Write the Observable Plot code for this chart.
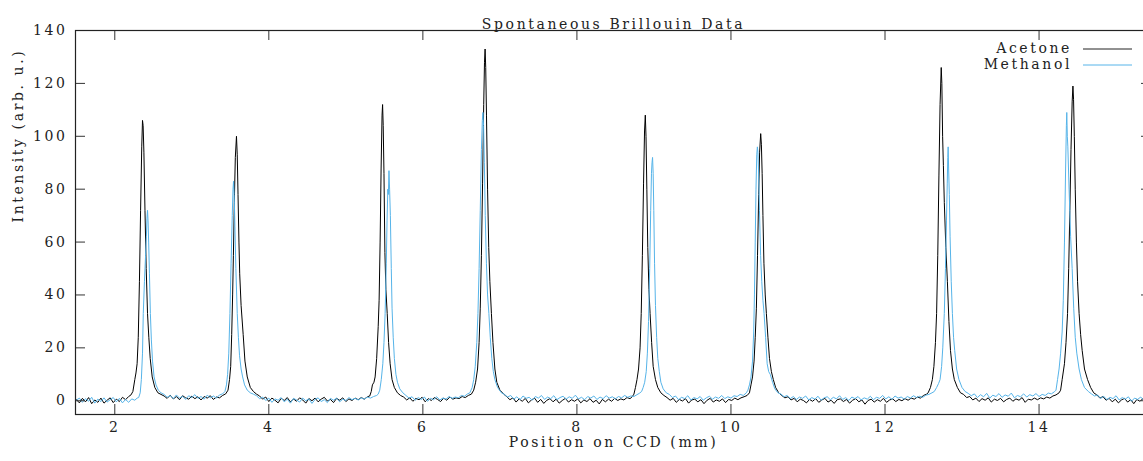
<!DOCTYPE html>
<html>
<head>
<meta charset="utf-8">
<script src="https://cdn.jsdelivr.net/npm/d3@7"></script>
<script src="https://cdn.jsdelivr.net/npm/@observablehq/plot@0.6"></script>
<style>
  html, body { margin: 0; padding: 0; background: #fff; }
  #chart svg text { font-family: 'DejaVu Serif', serif !important; font-size: 14px; letter-spacing: 2.6px; }
</style>
</head>
<body>
<div id="chart"></div>
<script>
const titleText = "Spontaneous Brillouin Data";
const xLabel = "Position on CCD (mm)";
const yLabel = "Intensity (arb. u.)";
const seriesNames = ["Acetone", "Methanol"];
const seriesColors = ["#000000", "#56b4e9"];
const xTicks = [2, 4, 6, 8, 10, 12, 14];
const yTicks = [0, 20, 40, 60, 80, 100, 120, 140];

// Acetone: [position (mm), intensity]
const acetone = [
  [1.50,0.5],[1.54,-0.8],[1.58,0.9],[1.62,-0.4],[1.66,1.2],[1.70,-1.1],[1.74,0.3],[1.78,-0.6],[1.82,1.0],[1.86,-0.9],[1.90,0.2],[1.94,1.1],[1.98,-0.7],[2.02,0.6],[2.06,-0.3],[2.10,1.3],[2.14,0.4],[2.18,1.6],[2.21,2.2],
  [2.235,3.5],[2.26,8],[2.275,10.5],[2.29,14],[2.305,24],[2.32,45],[2.335,72],[2.35,96],[2.36,106],[2.368,104],[2.378,94],[2.392,72],[2.408,50],[2.425,33],[2.442,24],[2.46,16],[2.486,9],[2.52,5],[2.56,3],[2.60,2.4],
  [2.64,1.8],[2.68,0.9],[2.72,2.1],[2.76,0.7],[2.80,1.6],[2.84,0.4],[2.88,1.9],[2.92,1.1],[2.96,0.6],[3.00,1.7],[3.04,0.8],[3.08,1.5],[3.12,0.3],[3.16,1.6],[3.20,1.0],[3.24,1.9],[3.28,0.5],[3.32,1.4],[3.36,1.1],[3.40,2.0],[3.44,2.6],
  [3.47,4],[3.49,8],[3.505,13],[3.518,25],[3.53,40],[3.54,55],[3.552,75],[3.565,92],[3.58,100],[3.59,93],[3.60,78],[3.612,60],[3.622,48],[3.64,36],[3.667,25],[3.69,15],[3.72,9],[3.76,5],[3.80,3.5],[3.84,2.5],
  [3.88,1.8],[3.92,0.6],[3.96,1.4],[4.00,-0.3],[4.04,1.0],[4.08,0.2],[4.12,-0.8],[4.16,0.9],[4.20,0.1],[4.24,1.2],[4.28,-0.5],[4.32,0.7],[4.36,-0.2],[4.40,1.1],[4.44,0.3],[4.48,-0.9],[4.52,0.8],[4.56,0.0],[4.60,1.0],[4.64,-0.4],[4.68,0.6],[4.72,1.3],[4.76,-0.1],[4.80,0.5],[4.84,-0.7],[4.88,0.9],[4.92,0.2],[4.96,1.1],[5.00,-0.3],[5.04,0.7],[5.08,0.1],[5.12,1.0],[5.16,0.4],[5.20,1.2],[5.24,0.6],[5.28,1.5],[5.31,1.8],
  [5.33,3.5],[5.345,6],[5.365,7],[5.38,9],[5.40,16],[5.42,28],[5.432,38],[5.445,60],[5.458,88],[5.47,108],[5.477,112],[5.485,104],[5.495,86],[5.507,56],[5.52,42],[5.537,33],[5.555,22],[5.575,14],[5.60,8],[5.63,5],[5.67,3],[5.71,2],
  [5.75,1.4],[5.79,0.3],[5.83,1.1],[5.87,-0.2],[5.91,0.9],[5.95,0.4],[5.99,1.3],[6.03,-0.4],[6.07,0.8],[6.11,0.1],[6.15,1.2],[6.19,0.5],[6.23,-0.3],[6.27,1.0],[6.31,0.2],[6.35,1.4],[6.39,0.6],[6.43,1.1],[6.47,0.8],[6.51,1.6],[6.55,1.2],[6.59,2.0],
  [6.63,2.5],[6.66,4],[6.685,7],[6.71,12],[6.73,22],[6.745,35],[6.76,55],[6.775,82],[6.79,112],[6.80,128],[6.808,133],[6.816,126],[6.826,108],[6.84,80],[6.855,58],[6.87,45],[6.89,33],[6.91,22],[6.935,12],[6.96,7],[7.00,4],[7.05,2.5],
  [7.09,1.5],[7.13,0.4],[7.17,1.1],[7.21,-0.5],[7.25,0.7],[7.29,-0.2],[7.33,0.9],[7.37,-0.8],[7.41,0.3],[7.45,1.0],[7.49,-0.6],[7.53,0.5],[7.57,-1.0],[7.61,0.2],[7.65,0.8],[7.69,-0.4],[7.73,0.6],[7.77,-0.9],[7.81,0.1],[7.85,0.9],[7.89,-0.5],[7.93,0.4],[7.97,-0.2],[8.01,0.7],[8.05,-0.8],[8.09,0.3],[8.13,-0.3],[8.17,0.8],[8.21,-0.6],[8.25,0.2],[8.29,-1.2],[8.33,0.5],[8.37,-0.4],[8.41,0.6],[8.45,-0.2],[8.49,0.9],[8.53,0.1],[8.57,0.7],[8.61,0.3],[8.65,1.2],[8.69,0.8],[8.72,1.6],
  [8.74,2.5],[8.76,5],[8.78,8],[8.80,12],[8.82,20],[8.835,33],[8.85,55],[8.865,82],[8.878,102],[8.888,108],[8.897,100],[8.908,80],[8.92,58],[8.935,42],[8.95,33],[8.97,22],[8.99,13],[9.02,8],[9.05,5],[9.09,3],[9.13,2],
  [9.17,1.2],[9.21,0.2],[9.25,0.9],[9.29,-0.6],[9.33,0.5],[9.37,-0.1],[9.41,0.8],[9.45,-0.9],[9.49,0.3],[9.53,0.6],[9.57,-0.4],[9.61,0.4],[9.65,-1.1],[9.69,0.2],[9.73,0.9],[9.77,-0.5],[9.81,0.3],[9.85,-0.2],[9.89,0.7],[9.93,-0.7],[9.97,0.5],[10.01,0.1],[10.05,1.0],[10.09,0.4],[10.13,1.1],[10.17,1.5],[10.21,2.0],
  [10.24,3],[10.26,6],[10.28,9],[10.30,15],[10.315,24],[10.33,35],[10.345,55],[10.36,78],[10.372,94],[10.386,101],[10.395,97],[10.405,86],[10.415,70],[10.428,52],[10.445,40],[10.46,33],[10.48,24],[10.50,16],[10.525,11],[10.55,8],[10.58,5],[10.62,3],
  [10.66,2.0],[10.70,1.1],[10.74,1.5],[10.78,0.3],[10.82,0.9],[10.86,-0.4],[10.90,0.6],[10.94,0.1],[10.98,-0.8],[11.02,0.5],[11.06,-0.2],[11.10,0.8],[11.14,-0.6],[11.18,0.3],[11.22,0.9],[11.26,-0.5],[11.30,0.2],[11.34,-1.0],[11.38,0.4],[11.42,0.7],[11.46,-0.3],[11.50,0.5],[11.54,-0.9],[11.58,0.2],[11.62,0.8],[11.66,-0.4],[11.70,0.3],[11.74,-1.3],[11.78,0.1],[11.82,0.6],[11.86,-0.5],[11.90,0.4],[11.94,-0.2],[11.98,0.9],[12.02,-0.6],[12.06,0.3],[12.10,0.7],[12.14,-0.3],[12.18,0.5],[12.22,0.0],[12.26,0.8],[12.30,0.2],[12.34,1.0],[12.38,0.6],[12.42,1.4],[12.46,1.0],[12.50,2.0],[12.54,2.5],
  [12.56,3],[12.59,5],[12.615,8],[12.635,13],[12.655,22],[12.67,33],[12.685,55],[12.70,85],[12.715,112],[12.73,126],[12.738,120],[12.748,100],[12.758,89],[12.77,75],[12.79,58],[12.81,45],[12.83,30],[12.85,19],[12.875,12],[12.90,8],[12.94,5],[12.98,3],
  [13.02,2.4],[13.06,1.2],[13.10,1.6],[13.14,0.3],[13.18,1.0],[13.22,-0.3],[13.26,0.8],[13.30,0.2],[13.34,1.1],[13.38,-0.5],[13.42,0.6],[13.46,0.1],[13.50,0.9],[13.54,-0.4],[13.58,0.5],[13.62,1.0],[13.66,-0.2],[13.70,0.7],[13.74,0.2],[13.78,1.2],[13.82,-0.6],[13.86,0.6],[13.90,0.3],[13.94,1.0],[13.98,0.4],[14.02,1.1],[14.06,0.7],[14.10,1.4],[14.14,1.0],[14.18,1.8],[14.22,2.2],[14.26,3],
  [14.28,4],[14.30,8],[14.33,14],[14.35,22],[14.37,33],[14.385,50],[14.40,72],[14.415,95],[14.43,113],[14.44,119],[14.448,114],[14.458,100],[14.47,80],[14.485,60],[14.50,45],[14.52,33],[14.54,25],[14.56,19],[14.59,12],[14.63,8],[14.67,5],[14.71,3],
  [14.75,2.2],[14.79,1.0],[14.83,1.6],[14.87,0.2],[14.91,0.9],[14.95,-0.4],[14.99,0.6],[15.03,-0.8],[15.07,0.3],[15.11,0.9],[15.15,-0.5],[15.19,0.4],[15.23,-1.1],[15.27,0.5],[15.31,-0.2],[15.35,0.8],[15.39,-0.6],[15.43,0.3],[15.46,-0.2]
];

// Methanol: [position (mm), intensity]
const methanol = [
  [1.50,0.2],[1.54,1.0],[1.58,-0.6],[1.62,0.8],[1.66,-0.2],[1.70,1.3],[1.74,-0.9],[1.78,0.6],[1.82,-0.3],[1.86,1.1],[1.90,-0.5],[1.94,0.4],[1.98,1.2],[2.02,-0.4],[2.06,0.9],[2.10,-0.8],[2.14,0.5],[2.18,-0.6],[2.22,0.7],[2.26,0.2],[2.29,1.0],
  [2.31,1.2],[2.33,3],[2.345,8],[2.36,18],[2.37,33],[2.385,45],[2.40,55],[2.41,62],[2.418,69],[2.425,72],[2.432,68],[2.44,60],[2.45,48],[2.462,33],[2.475,23],[2.49,15],[2.51,9],[2.535,6],[2.565,4],[2.60,3],
  [2.64,2.4],[2.68,1.3],[2.72,2.0],[2.76,0.8],[2.80,2.2],[2.84,1.0],[2.88,1.7],[2.92,0.5],[2.96,1.9],[3.00,1.2],[3.04,2.3],[3.08,0.9],[3.12,1.6],[3.16,0.6],[3.20,2.1],[3.24,1.1],[3.28,1.8],[3.32,1.0],[3.36,2.2],[3.40,2.6],
  [3.43,3.5],[3.45,6],[3.465,10],[3.48,18],[3.495,33],[3.51,52],[3.525,70],[3.535,80],[3.542,83],[3.55,78],[3.56,66],[3.572,50],[3.59,33],[3.605,24],[3.62,17],[3.64,12],[3.66,9],[3.685,6],[3.72,4],[3.76,3],[3.80,2.5],
  [3.84,1.9],[3.88,0.8],[3.92,1.4],[3.96,0.1],[4.00,1.0],[4.04,-0.6],[4.08,0.7],[4.12,0.2],[4.16,1.2],[4.20,-0.4],[4.24,0.6],[4.28,-0.9],[4.32,0.9],[4.36,0.3],[4.40,-0.5],[4.44,1.0],[4.48,0.0],[4.52,0.7],[4.56,-1.0],[4.60,0.5],[4.64,1.1],[4.68,-0.3],[4.72,0.4],[4.76,-0.7],[4.80,0.9],[4.84,0.2],[4.88,1.0],[4.92,-0.4],[4.96,0.6],[5.00,0.1],[5.04,1.2],[5.08,0.4],[5.12,0.9],[5.16,0.3],[5.20,1.1],[5.24,0.6],[5.28,1.4],[5.32,1.0],[5.36,1.6],[5.40,2.0],
  [5.42,2.5],[5.44,4],[5.46,8],[5.48,14],[5.495,22],[5.51,33],[5.525,52],[5.535,68],[5.545,80],[5.552,78],[5.56,87],[5.568,80],[5.578,70],[5.59,50],[5.60,35],[5.615,24],[5.63,16],[5.65,10],[5.67,7],[5.70,4.5],[5.74,3],
  [5.78,2.0],[5.82,1.0],[5.86,1.5],[5.90,0.2],[5.94,1.2],[5.98,0.5],[6.02,1.4],[6.06,-0.2],[6.10,0.9],[6.14,0.4],[6.18,1.5],[6.22,0.3],[6.26,1.0],[6.30,0.6],[6.34,1.6],[6.38,0.9],[6.42,1.4],[6.46,1.1],[6.50,2.0],[6.54,1.7],[6.58,2.6],
  [6.61,3],[6.64,5],[6.66,8],[6.68,13],[6.70,22],[6.715,33],[6.73,50],[6.745,72],[6.76,95],[6.772,106],[6.78,109],[6.788,104],[6.798,90],[6.81,70],[6.825,52],[6.84,40],[6.857,33],[6.875,24],[6.895,16],[6.915,11],[6.935,8],[6.97,5],[7.02,3],
  [7.06,2.4],[7.10,1.4],[7.14,2.0],[7.18,0.6],[7.22,1.5],[7.26,0.3],[7.30,1.8],[7.34,0.9],[7.38,1.3],[7.42,0.2],[7.46,1.6],[7.50,1.0],[7.54,2.0],[7.58,0.5],[7.62,1.4],[7.66,0.8],[7.70,1.9],[7.74,0.4],[7.78,1.2],[7.82,1.7],[7.86,0.6],[7.90,1.5],[7.94,0.9],[7.98,2.1],[8.02,0.7],[8.06,1.3],[8.10,0.4],[8.14,1.6],[8.18,1.0],[8.22,1.8],[8.26,0.5],[8.30,1.4],[8.34,0.8],[8.38,1.9],[8.42,1.0],[8.46,1.5],[8.50,0.7],[8.54,1.6],[8.58,1.1],[8.62,2.0],[8.66,1.3],[8.70,1.8],[8.74,1.6],[8.78,2.3],[8.81,2.8],
  [8.84,3.5],[8.86,5],[8.88,7],[8.90,11],[8.915,18],[8.93,30],[8.945,50],[8.958,72],[8.968,86],[8.975,90],[8.982,92],[8.99,86],[8.998,72],[9.008,52],[9.02,36],[9.035,24],[9.05,16],[9.07,11],[9.09,7],[9.12,4.5],[9.16,3],
  [9.20,2.4],[9.24,1.2],[9.28,1.8],[9.32,0.4],[9.36,1.3],[9.40,0.8],[9.44,1.9],[9.48,0.3],[9.52,1.2],[9.56,0.7],[9.60,1.6],[9.64,0.2],[9.68,1.1],[9.72,1.7],[9.76,0.6],[9.80,1.4],[9.84,0.9],[9.88,2.0],[9.92,0.8],[9.96,1.5],[10.00,1.0],[10.04,1.9],[10.08,1.6],[10.12,2.4],[10.16,2.0],[10.20,3.0],
  [10.22,4],[10.24,6],[10.26,9],[10.28,15],[10.295,26],[10.305,40],[10.315,60],[10.325,80],[10.335,93],[10.343,96],[10.35,94],[10.36,85],[10.37,72],[10.385,55],[10.40,45],[10.415,38],[10.43,33],[10.45,24],[10.47,14],[10.49,11],[10.51,10],[10.54,7],[10.57,4.5],[10.61,3],
  [10.65,2.5],[10.69,1.5],[10.73,2.0],[10.77,0.8],[10.81,1.6],[10.85,0.5],[10.89,1.4],[10.93,0.9],[10.97,1.8],[11.01,0.3],[11.05,1.2],[11.09,0.6],[11.13,1.7],[11.17,0.2],[11.21,1.1],[11.25,1.5],[11.29,0.4],[11.33,1.3],[11.37,0.7],[11.41,1.9],[11.45,0.5],[11.49,1.2],[11.53,0.1],[11.57,1.4],[11.61,0.8],[11.65,1.6],[11.69,0.3],[11.73,1.1],[11.77,0.6],[11.81,1.7],[11.85,0.4],[11.89,1.3],[11.93,0.9],[11.97,2.0],[12.01,0.7],[12.05,1.5],[12.09,0.5],[12.13,1.8],[12.17,1.0],[12.21,1.4],[12.25,0.6],[12.29,1.6],[12.33,1.0],[12.37,1.9],[12.41,1.2],[12.45,1.7],[12.49,1.3],[12.53,2.1],[12.57,2.4],[12.61,3.0],
  [12.64,3.5],[12.67,5],[12.695,6.5],[12.715,8],[12.735,13],[12.75,20],[12.77,33],[12.785,50],[12.798,68],[12.808,82],[12.815,92],[12.82,96],[12.826,88],[12.835,78],[12.845,62],[12.86,45],[12.875,33],[12.89,24],[12.905,19],[12.93,12],[12.96,8],[13.00,5],[13.04,3.5],
  [13.08,2.8],[13.12,1.9],[13.16,2.6],[13.20,1.2],[13.24,2.3],[13.28,1.5],[13.32,2.8],[13.36,1.0],[13.40,2.1],[13.44,1.6],[13.48,2.7],[13.52,1.3],[13.56,2.2],[13.60,1.7],[13.64,2.9],[13.68,1.1],[13.72,2.0],[13.76,1.5],[13.80,2.6],[13.84,1.4],[13.88,2.3],[13.92,1.8],[13.96,2.7],[14.00,1.6],[14.04,2.4],[14.08,2.0],[14.12,2.9],[14.16,2.6],[14.20,3.4],
  [14.22,4],[14.24,8],[14.26,12],[14.28,18],[14.30,26],[14.315,38],[14.33,60],[14.345,88],[14.355,104],[14.36,109],[14.367,100],[14.374,96],[14.39,80],[14.41,62],[14.43,50],[14.45,35],[14.47,24],[14.49,18],[14.52,12],[14.55,8],[14.59,5],[14.64,3.5],
  [14.68,2.6],[14.72,1.8],[14.76,2.2],[14.80,0.9],[14.84,1.7],[14.88,0.4],[14.92,1.3],[14.96,0.8],[15.00,1.9],[15.04,0.3],[15.08,1.2],[15.12,0.6],[15.16,1.5],[15.20,-0.2],[15.24,1.0],[15.28,0.5],[15.32,1.4],[15.36,0.2],[15.40,1.1],[15.44,0.6],[15.46,1.0]
];

const W = 1143, H = 461;
const M = {left: 75, right: -8, top: 30, bottom: 47};
const innerW = W - M.left - M.right;
const innerH = H - M.top - M.bottom;
const tickLen = 10;

const rows = [
  ...acetone.map(([x, y]) => ({series: seriesNames[0], x, y})),
  ...methanol.map(([x, y]) => ({series: seriesNames[1], x, y}))
];

function legendMark(index, scales, values, dims) {
  const g = d3.create("svg:g");
  const right = dims.width - dims.marginRight;
  const top = dims.marginTop;
  seriesNames.forEach((name, i) => {
    const cy = top + 18 + i * 16;
    g.append("text")
      .attr("x", right - 79).attr("y", cy)
      .attr("text-anchor", "end").attr("dy", "0.35em")
      .attr("fill", "#222")
      .text(name);
    g.append("line")
      .attr("x1", right - 68).attr("x2", right - 19)
      .attr("y1", cy + 1).attr("y2", cy + 1)
      .attr("stroke", i === 0 ? "#222" : seriesColors[i])
      .attr("stroke-width", 1);
  });
  return g.node();
}

const chart = Plot.plot({
  width: W, height: H,
  marginLeft: M.left, marginRight: M.right, marginTop: M.top, marginBottom: M.bottom,
  style: {color: "#222", background: "#fff", overflow: "hidden"},
  x: {domain: [1.49, 15.46], ticks: xTicks, tickSize: 0, tickPadding: 8, tickFormat: d => String(d), label: null},
  y: {domain: [-5.2, 140], ticks: yTicks, tickSize: 0, tickPadding: 8, tickFormat: d => String(d), label: null},
  color: {domain: seriesNames, range: seriesColors},
  marks: [
    Plot.line(rows, {x: "x", y: "y", z: "series", stroke: "series", strokeWidth: 1}),
    Plot.ruleX(xTicks, {x: d => d, insetTop: innerH - tickLen, stroke: "#333"}),
    Plot.ruleX(xTicks, {x: d => d, insetBottom: innerH - tickLen, stroke: "#333"}),
    Plot.ruleY(yTicks, {y: d => d, insetRight: innerW - tickLen, stroke: "#333"}),
    Plot.ruleY(yTicks, {y: d => d, insetLeft: innerW - tickLen, stroke: "#333"}),
    Plot.frame({stroke: "#222", strokeWidth: 1.2}),
    Plot.text([titleText], {frameAnchor: "top", dy: -11, fill: "#222"}),
    Plot.text([xLabel], {frameAnchor: "bottom", dy: 32, fill: "#222"}),
    Plot.text([yLabel], {frameAnchor: "left", dx: -57, rotate: -90, fill: "#222"}),
    legendMark
  ]
});

document.getElementById("chart").appendChild(chart);
</script>
</body>
</html>
